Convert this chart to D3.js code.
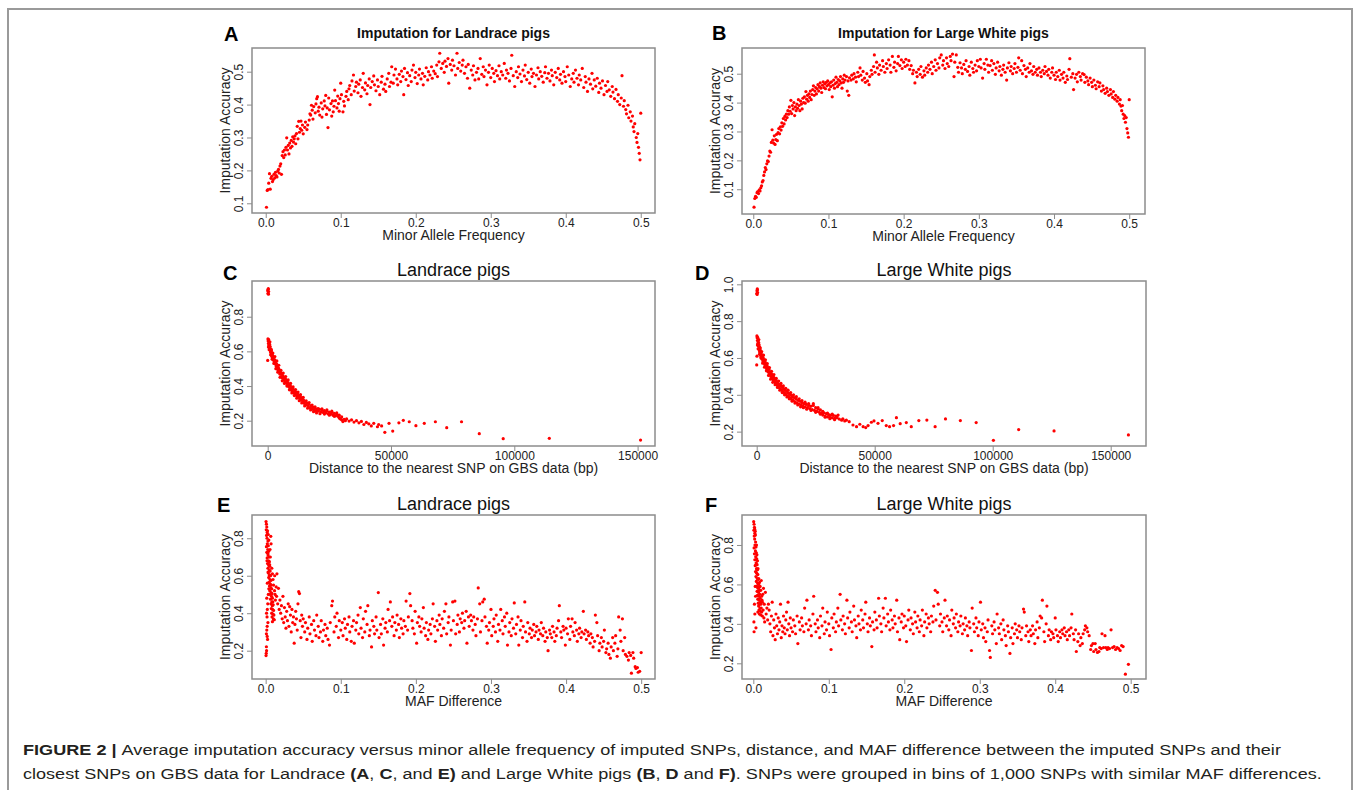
<!DOCTYPE html>
<html>
<head>
<meta charset="utf-8">
<script src="https://cdn.jsdelivr.net/npm/d3@7"></script>
<style>
	body { margin: 0; background: #fff; }
	svg text { font-family: "Liberation Sans", Arial, Helvetica, sans-serif; }
</style>
</head>
<body>
<svg id="fig" width="1355" height="790"></svg>
<script>
// A: Landrace, accuracy vs minor allele frequency
var landraceMaf = [
[0.001,0.088],[0.002,0.139],[0.003,0.142],[0.004,0.161],[0.005,0.19],[0.006,0.143],[0.007,0.176],[0.008,0.182],[0.009,0.166],[0.010,0.172],
[0.011,0.188],[0.012,0.177],[0.013,0.194],[0.014,0.184],[0.015,0.18],[0.016,0.198],[0.017,0.203],[0.018,0.192],[0.019,0.213],[0.020,0.22],
[0.021,0.188],[0.022,0.245],[0.023,0.257],[0.024,0.239],[0.025,0.262],[0.026,0.247],[0.027,0.27],[0.028,0.299],[0.029,0.262],[0.030,0.276],
[0.031,0.25],[0.032,0.283],[0.033,0.268],[0.034,0.291],[0.035,0.273],[0.036,0.302],[0.037,0.286],[0.038,0.296],[0.039,0.305],[0.040,0.281],
[0.041,0.312],[0.042,0.334],[0.043,0.296],[0.044,0.349],[0.045,0.316],[0.046,0.327],[0.047,0.35],[0.048,0.322],[0.049,0.338],[0.050,0.311],
[0.052,0.331],[0.053,0.347],[0.055,0.324],[0.056,0.338],[0.058,0.353],[0.059,0.372],[0.060,0.368],[0.061,0.398],[0.062,0.383],[0.063,0.356],
[0.064,0.394],[0.066,0.375],[0.067,0.402],[0.068,0.418],[0.069,0.424],[0.070,0.38],[0.071,0.392],[0.072,0.368],[0.074,0.405],[0.075,0.362],
[0.076,0.387],[0.078,0.411],[0.079,0.396],[0.080,0.428],[0.081,0.37],[0.082,0.39],[0.083,0.33],[0.084,0.42],[0.085,0.384],[0.087,0.403],
[0.088,0.365],[0.089,0.411],[0.090,0.378],[0.091,0.395],[0.092,0.444],[0.093,0.412],[0.095,0.39],[0.096,0.426],[0.097,0.403],[0.098,0.38],
[0.099,0.418],[0.100,0.465],[0.101,0.43],[0.103,0.378],[0.104,0.41],[0.105,0.396],[0.107,0.425],[0.108,0.44],[0.110,0.415],[0.111,0.448],
[0.112,0.458],[0.114,0.43],[0.115,0.472],[0.117,0.49],[0.118,0.441],[0.120,0.455],[0.121,0.468],[0.123,0.436],[0.124,0.462],[0.126,0.475],
[0.127,0.425],[0.129,0.452],[0.130,0.495],[0.132,0.445],[0.133,0.466],[0.135,0.433],[0.136,0.458],[0.138,0.478],[0.139,0.40],[0.140,0.452],
[0.142,0.47],[0.144,0.487],[0.145,0.46],[0.147,0.442],[0.149,0.475],[0.150,0.455],[0.152,0.43],[0.154,0.468],[0.155,0.486],[0.157,0.447],
[0.159,0.462],[0.160,0.44],[0.162,0.478],[0.164,0.495],[0.165,0.455],[0.167,0.468],[0.168,0.515],[0.170,0.465],[0.171,0.49],[0.173,0.508],
[0.175,0.478],[0.176,0.46],[0.178,0.492],[0.180,0.47],[0.181,0.502],[0.183,0.485],[0.184,0.43],[0.185,0.51],[0.187,0.476],[0.189,0.497],
[0.190,0.458],[0.192,0.488],[0.194,0.47],[0.195,0.505],[0.197,0.52],[0.199,0.482],[0.200,0.498],[0.202,0.464],[0.204,0.49],[0.205,0.508],
[0.207,0.478],[0.209,0.495],[0.210,0.46],[0.212,0.486],[0.214,0.512],[0.216,0.475],[0.217,0.5],[0.219,0.49],[0.221,0.515],[0.222,0.48],
[0.224,0.502],[0.226,0.494],[0.228,0.52],[0.229,0.485],[0.231,0.53],[0.232,0.556],[0.234,0.51],[0.236,0.525],[0.238,0.498],[0.239,0.532],
[0.241,0.516],[0.243,0.54],[0.244,0.465],[0.246,0.522],[0.248,0.505],[0.249,0.535],[0.251,0.518],[0.253,0.49],[0.255,0.556],[0.256,0.51],
[0.258,0.528],[0.260,0.502],[0.262,0.52],[0.263,0.535],[0.265,0.495],[0.267,0.515],[0.269,0.48],[0.270,0.522],[0.272,0.45],[0.274,0.505],
[0.276,0.49],[0.277,0.518],[0.279,0.475],[0.281,0.498],[0.283,0.51],[0.284,0.478],[0.286,0.54],[0.288,0.492],[0.290,0.515],[0.291,0.485],
[0.293,0.505],[0.295,0.46],[0.297,0.498],[0.298,0.52],[0.300,0.482],[0.302,0.51],[0.304,0.495],[0.305,0.47],[0.307,0.503],[0.309,0.488],
[0.311,0.518],[0.312,0.478],[0.314,0.5],[0.316,0.49],[0.318,0.525],[0.320,0.48],[0.321,0.505],[0.323,0.495],[0.325,0.472],[0.327,0.51],
[0.328,0.55],[0.330,0.488],[0.332,0.455],[0.334,0.5],[0.336,0.482],[0.337,0.515],[0.339,0.493],[0.341,0.47],[0.343,0.505],[0.345,0.487],
[0.346,0.52],[0.348,0.476],[0.350,0.498],[0.352,0.465],[0.354,0.508],[0.355,0.485],[0.357,0.495],[0.359,0.455],[0.361,0.49],[0.363,0.512],
[0.364,0.478],[0.366,0.5],[0.368,0.486],[0.370,0.468],[0.372,0.497],[0.373,0.515],[0.375,0.48],[0.377,0.495],[0.379,0.472],[0.381,0.505],
[0.382,0.488],[0.384,0.46],[0.386,0.498],[0.388,0.482],[0.390,0.51],[0.392,0.475],[0.393,0.492],[0.395,0.465],[0.397,0.5],[0.399,0.485],
[0.400,0.47],[0.402,0.515],[0.404,0.49],[0.406,0.455],[0.408,0.478],[0.410,0.495],[0.411,0.468],[0.413,0.505],[0.415,0.48],[0.417,0.46],
[0.418,0.49],[0.420,0.475],[0.422,0.51],[0.424,0.452],[0.426,0.485],[0.427,0.468],[0.429,0.44],[0.431,0.478],[0.433,0.462],[0.435,0.495],
[0.436,0.448],[0.438,0.475],[0.440,0.456],[0.442,0.48],[0.444,0.437],[0.445,0.465],[0.447,0.45],[0.449,0.472],[0.451,0.43],[0.453,0.458],
[0.455,0.44],[0.456,0.47],[0.458,0.445],[0.460,0.425],[0.462,0.455],[0.463,0.438],[0.465,0.418],[0.467,0.446],[0.469,0.41],[0.470,0.43],
[0.472,0.4],[0.474,0.42],[0.475,0.488],[0.477,0.395],[0.478,0.412],[0.480,0.385],[0.481,0.372],[0.483,0.398],[0.484,0.36],[0.486,0.378],
[0.487,0.35],[0.489,0.365],[0.490,0.332],[0.491,0.318],[0.492,0.342],[0.494,0.30],[0.495,0.285],[0.496,0.312],[0.497,0.27],[0.498,0.252],
[0.499,0.232],[0.500,0.374]
];

// B: Large White, accuracy vs minor allele frequency
var largeWhiteMaf = [
[0.001,0.038],[0.002,0.068],[0.003,0.075],[0.004,0.072],[0.005,0.088],[0.006,0.092],[0.007,0.085],[0.008,0.098],[0.009,0.094],[0.010,0.105],
[0.011,0.112],[0.012,0.125],[0.013,0.13],[0.014,0.148],[0.015,0.16],[0.016,0.175],[0.017,0.168],[0.018,0.188],[0.019,0.198],[0.020,0.196],
[0.021,0.215],[0.022,0.232],[0.023,0.228],[0.024,0.262],[0.025,0.306],[0.026,0.27],[0.027,0.26],[0.028,0.285],[0.029,0.255],[0.030,0.272],
[0.031,0.29],[0.032,0.268],[0.033,0.296],[0.034,0.31],[0.035,0.292],[0.036,0.316],[0.037,0.305],[0.038,0.33],[0.039,0.318],[0.040,0.345],
[0.041,0.326],[0.042,0.352],[0.043,0.34],[0.044,0.36],[0.045,0.348],[0.046,0.372],[0.047,0.36],[0.048,0.385],[0.049,0.37],[0.050,0.408],
[0.051,0.362],[0.052,0.39],[0.053,0.378],[0.054,0.4],[0.055,0.355],[0.056,0.385],[0.057,0.372],[0.058,0.395],[0.059,0.38],[0.060,0.41],
[0.061,0.39],[0.062,0.372],[0.063,0.405],[0.064,0.395],[0.065,0.378],[0.066,0.415],[0.067,0.4],[0.068,0.42],[0.069,0.398],[0.070,0.438],
[0.071,0.412],[0.072,0.425],[0.073,0.405],[0.074,0.43],[0.075,0.418],[0.076,0.44],[0.077,0.41],[0.078,0.428],[0.079,0.445],[0.080,0.458],
[0.081,0.425],[0.082,0.44],[0.083,0.452],[0.084,0.43],[0.085,0.448],[0.086,0.462],[0.087,0.44],[0.088,0.455],[0.089,0.468],[0.090,0.45],
[0.091,0.435],[0.092,0.46],[0.093,0.472],[0.094,0.452],[0.095,0.465],[0.096,0.448],[0.097,0.47],[0.098,0.458],[0.099,0.475],[0.100,0.462],
[0.101,0.445],[0.102,0.468],[0.103,0.455],[0.104,0.472],[0.105,0.42],[0.106,0.46],[0.107,0.478],[0.108,0.45],[0.109,0.466],[0.110,0.488],
[0.111,0.47],[0.112,0.455],[0.113,0.48],[0.114,0.462],[0.115,0.475],[0.116,0.49],[0.117,0.468],[0.118,0.45],[0.119,0.482],[0.120,0.47],
[0.121,0.495],[0.122,0.478],[0.124,0.49],[0.125,0.44],[0.126,0.475],[0.127,0.425],[0.128,0.486],[0.130,0.478],[0.131,0.495],[0.133,0.482],
[0.134,0.5],[0.136,0.488],[0.137,0.472],[0.139,0.505],[0.140,0.49],[0.142,0.52],[0.143,0.495],[0.145,0.478],[0.146,0.508],[0.148,0.485],
[0.149,0.47],[0.151,0.5],[0.152,0.475],[0.154,0.462],[0.155,0.49],[0.157,0.512],[0.158,0.498],[0.160,0.525],[0.161,0.565],[0.162,0.505],
[0.164,0.54],[0.165,0.52],[0.167,0.498],[0.168,0.53],[0.170,0.512],[0.172,0.545],[0.173,0.525],[0.175,0.505],[0.177,0.535],[0.178,0.518],
[0.180,0.548],[0.182,0.53],[0.183,0.505],[0.185,0.56],[0.187,0.522],[0.188,0.54],[0.190,0.51],[0.192,0.535],[0.193,0.56],[0.195,0.528],
[0.197,0.548],[0.198,0.518],[0.200,0.54],[0.202,0.525],[0.203,0.55],[0.205,0.53],[0.207,0.545],[0.208,0.515],[0.210,0.528],[0.212,0.5],
[0.213,0.512],[0.215,0.468],[0.217,0.505],[0.218,0.49],[0.220,0.515],[0.222,0.498],[0.223,0.525],[0.225,0.488],[0.227,0.51],[0.228,0.495],
[0.230,0.52],[0.232,0.505],[0.233,0.53],[0.235,0.515],[0.237,0.54],[0.238,0.5],[0.240,0.525],[0.242,0.548],[0.243,0.512],[0.245,0.535],
[0.247,0.52],[0.248,0.555],[0.250,0.565],[0.252,0.53],[0.253,0.545],[0.255,0.518],[0.257,0.555],[0.258,0.535],[0.260,0.525],[0.262,0.56],
[0.263,0.545],[0.265,0.568],[0.267,0.49],[0.268,0.54],[0.270,0.565],[0.272,0.522],[0.273,0.505],[0.275,0.538],[0.277,0.52],[0.278,0.5],
[0.280,0.532],[0.282,0.515],[0.283,0.545],[0.285,0.508],[0.287,0.525],[0.288,0.495],[0.290,0.54],[0.292,0.518],[0.293,0.505],[0.295,0.53],
[0.297,0.51],[0.298,0.545],[0.300,0.525],[0.302,0.55],[0.303,0.52],[0.305,0.485],[0.307,0.535],[0.308,0.515],[0.310,0.55],[0.312,0.53],
[0.313,0.505],[0.315,0.528],[0.317,0.545],[0.318,0.512],[0.320,0.535],[0.322,0.498],[0.323,0.52],[0.325,0.54],[0.327,0.51],[0.328,0.525],
[0.330,0.495],[0.332,0.515],[0.333,0.53],[0.335,0.505],[0.337,0.478],[0.338,0.52],[0.340,0.538],[0.342,0.51],[0.343,0.525],[0.345,0.5],
[0.347,0.518],[0.348,0.535],[0.350,0.505],[0.352,0.522],[0.353,0.555],[0.355,0.512],[0.357,0.545],[0.358,0.5],[0.360,0.528],[0.362,0.515],
[0.363,0.49],[0.365,0.52],[0.367,0.505],[0.368,0.535],[0.370,0.51],[0.372,0.498],[0.373,0.525],[0.375,0.505],[0.377,0.515],[0.378,0.495],
[0.380,0.52],[0.382,0.505],[0.383,0.49],[0.385,0.512],[0.387,0.5],[0.388,0.525],[0.390,0.508],[0.392,0.495],[0.393,0.515],[0.395,0.485],
[0.397,0.505],[0.398,0.52],[0.400,0.495],[0.402,0.48],[0.403,0.505],[0.405,0.49],[0.407,0.512],[0.408,0.478],[0.410,0.498],[0.412,0.485],
[0.413,0.505],[0.415,0.47],[0.417,0.492],[0.418,0.48],[0.420,0.515],[0.421,0.552],[0.423,0.488],[0.425,0.5],[0.426,0.445],[0.428,0.485],
[0.430,0.498],[0.431,0.472],[0.433,0.505],[0.435,0.49],[0.436,0.478],[0.438,0.5],[0.440,0.497],[0.441,0.47],[0.443,0.488],[0.445,0.475],
[0.446,0.462],[0.448,0.485],[0.450,0.47],[0.451,0.455],[0.453,0.478],[0.455,0.46],[0.456,0.448],[0.458,0.472],[0.460,0.455],[0.461,0.468],
[0.463,0.44],[0.465,0.458],[0.466,0.445],[0.468,0.432],[0.470,0.45],[0.471,0.438],[0.473,0.425],[0.475,0.445],[0.476,0.43],[0.478,0.418],
[0.479,0.438],[0.481,0.412],[0.482,0.425],[0.484,0.405],[0.485,0.418],[0.487,0.395],[0.488,0.41],[0.489,0.388],[0.490,0.372],[0.491,0.39],
[0.492,0.36],[0.493,0.345],[0.494,0.355],[0.495,0.332],[0.496,0.348],[0.497,0.31],[0.498,0.295],[0.499,0.28],[0.500,0.41]
];

// C: Landrace, accuracy vs distance to nearest GBS SNP (bp)
var landraceDist = [
[0,0.95],[120,0.935],[250,0.962],[380,0.945],[180,0.958],[300,0.93],[0,0.548],
[100,0.672],[200,0.66],[300,0.645],[400,0.668],[500,0.635],[600,0.652],[700,0.62],[800,0.64],[900,0.61],[1000,0.628],
[1100,0.598],[1200,0.615],[1300,0.59],[1400,0.605],[1500,0.578],[1600,0.595],[1700,0.57],[1800,0.585],[1900,0.562],[2000,0.575],
[2200,0.552],[2400,0.565],[2600,0.54],[2800,0.552],[3000,0.528],[3200,0.54],[3400,0.515],[3600,0.528],[3800,0.505],[4000,0.515],
[4200,0.49],[4400,0.503],[4600,0.48],[4800,0.492],[5000,0.468],[5250,0.478],[5500,0.455],[5750,0.468],[6000,0.445],[6250,0.458],
[6500,0.435],[6750,0.448],[7000,0.425],[7250,0.44],[7500,0.418],[7750,0.43],[8000,0.405],[8250,0.42],[8500,0.398],[8750,0.408],
[9000,0.385],[9250,0.4],[9500,0.378],[9750,0.39],[10000,0.37],[10300,0.382],[10600,0.36],[10900,0.372],[11200,0.352],[11500,0.365],
[11800,0.342],[12100,0.355],[12400,0.335],[12700,0.345],[13000,0.325],[13300,0.337],[13600,0.318],[13900,0.33],[14200,0.308],[14500,0.32],
[14800,0.3],[15100,0.31],[15500,0.292],[15900,0.302],[16300,0.285],[16700,0.295],[17100,0.275],[17500,0.285],[17900,0.268],[18300,0.278],
[18700,0.262],[19100,0.272],[19500,0.258],[20000,0.268],[20500,0.255],[21000,0.265],[21500,0.25],[22000,0.262],[22500,0.248],[23000,0.258],
[23500,0.245],[24000,0.255],[24500,0.24],[25000,0.25],[25500,0.238],[26000,0.248],[26500,0.232],[27000,0.242],[27500,0.228],[28000,0.238],
[28500,0.225],[29000,0.232],[29500,0.21],[30000,0.222],[30500,0.195],[31000,0.208],[31500,0.2],[32000,0.21],[33000,0.198],[34000,0.205],
[35000,0.192],[36000,0.2],[37000,0.188],[38000,0.196],[39000,0.178],[40000,0.19],[41000,0.182],[42000,0.17],[43000,0.185],[44500,0.165],
[45000,0.178],[46200,0.17],[47500,0.133],[49200,0.185],[50700,0.14],[53200,0.188],[55000,0.202],[57400,0.194],[60100,0.171],[63500,0.185],
[68000,0.194],[72600,0.16],[78600,0.194],[85800,0.125],[95500,0.096],[114200,0.098],[151200,0.088],
[300,0.625],[600,0.61],[900,0.655],[1200,0.58],[1500,0.61],[1800,0.555],[2100,0.59],[2500,0.53],[2900,0.57],[3300,0.5],
[3700,0.545],[4100,0.48],[4500,0.52],[5000,0.45],[5400,0.49],[5900,0.43],[6300,0.475],[6800,0.415],[7300,0.455],[7800,0.4],
[8300,0.435],[8800,0.378],[9300,0.415],[9800,0.36],[10300,0.395],[10800,0.345],[11300,0.38],[11800,0.33],[12300,0.365],[12800,0.315],
[13300,0.35],[13800,0.302],[14400,0.335],[15000,0.285],[15600,0.315],[16200,0.272],[16800,0.305],[17400,0.262],[18000,0.29],[18600,0.252],
[19200,0.28],[19800,0.245],[20500,0.27],[21200,0.24],[22000,0.268],[23000,0.238],[24000,0.262],[25000,0.232],[26000,0.255],[27000,0.225],
[28000,0.245],[29000,0.215],[30000,0.205]
];

// D: Large White, accuracy vs distance to nearest GBS SNP (bp)
var largeWhiteDist = [
[0,0.95],[120,0.965],[250,0.975],[380,0.955],[180,0.945],[300,0.97],[0,0.562],[100,0.61],
[100,0.72],[200,0.71],[300,0.695],[400,0.712],[500,0.68],[600,0.698],[700,0.665],[800,0.685],[900,0.652],[1000,0.672],
[1100,0.64],[1200,0.66],[1300,0.63],[1400,0.648],[1500,0.62],[1600,0.638],[1700,0.612],[1800,0.628],[1900,0.602],[2000,0.62],
[2200,0.595],[2400,0.61],[2600,0.585],[2800,0.6],[3000,0.575],[3200,0.59],[3400,0.565],[3600,0.578],[3800,0.552],[4000,0.568],
[4200,0.542],[4400,0.558],[4600,0.532],[4800,0.548],[5000,0.522],[5250,0.538],[5500,0.512],[5750,0.525],[6000,0.5],[6250,0.515],
[6500,0.49],[6750,0.505],[7000,0.48],[7250,0.495],[7500,0.472],[7750,0.485],[8000,0.462],[8250,0.478],[8500,0.455],[8750,0.468],
[9000,0.448],[9250,0.46],[9500,0.44],[9750,0.455],[10000,0.432],[10300,0.448],[10600,0.425],[10900,0.44],[11200,0.418],[11500,0.432],
[11800,0.41],[12100,0.425],[12400,0.402],[12700,0.418],[13000,0.395],[13300,0.41],[13600,0.39],[13900,0.405],[14200,0.382],[14500,0.398],
[14800,0.375],[15100,0.39],[15500,0.37],[15900,0.385],[16300,0.362],[16700,0.378],[17100,0.355],[17500,0.37],[17900,0.35],[18300,0.365],
[18700,0.345],[19100,0.358],[19500,0.34],[20000,0.352],[20500,0.335],[21000,0.348],[21500,0.33],[22000,0.342],[22500,0.325],[23000,0.338],
[23500,0.32],[24000,0.352],[24500,0.315],[25000,0.33],[25500,0.31],[26000,0.322],[26500,0.305],[27000,0.318],[27500,0.3],[28000,0.29],
[28500,0.302],[29000,0.285],[29500,0.298],[30000,0.28],[30500,0.292],[31000,0.278],[31500,0.29],[32000,0.275],[32500,0.288],[33000,0.272],
[33500,0.285],[34000,0.275],[34500,0.29],[35000,0.268],[36000,0.262],[36500,0.27],[37300,0.258],[38000,0.262],[39200,0.254],[40800,0.236],
[42300,0.227],[43700,0.24],[45100,0.227],[46200,0.222],[47200,0.233],[48600,0.251],[49700,0.258],[51400,0.245],[53200,0.26],[54900,0.233],
[56300,0.227],[58000,0.233],[59200,0.276],[60800,0.243],[63400,0.249],[65500,0.227],[68700,0.26],[72100,0.263],[75600,0.227],[80000,0.269],
[86300,0.26],[93000,0.249],[100300,0.153],[111000,0.211],[126000,0.204],[157500,0.182],
[300,0.67],[600,0.65],[900,0.7],[1200,0.62],[1500,0.655],[1800,0.6],[2100,0.635],[2500,0.572],[2900,0.615],[3300,0.55],
[3700,0.59],[4100,0.53],[4500,0.57],[5000,0.505],[5400,0.548],[5900,0.485],[6300,0.528],[6800,0.468],[7300,0.51],[7800,0.455],
[8300,0.49],[8800,0.44],[9300,0.475],[9800,0.425],[10300,0.462],[10800,0.412],[11300,0.448],[11800,0.4],[12300,0.435],[12800,0.388],
[13300,0.425],[13800,0.378],[14400,0.412],[15000,0.365],[15600,0.4],[16200,0.355],[16800,0.39],[17400,0.345],[18000,0.378],[18600,0.335],
[19200,0.368],[19800,0.33],[20500,0.36],[21200,0.322],[22000,0.352],[23000,0.315],[24000,0.342],[25000,0.305],[26000,0.33],[27000,0.295],
[28000,0.31],[29000,0.278],[30000,0.3],[31000,0.27],[32000,0.295],[33000,0.265],[34000,0.28]
];

// E: Landrace, accuracy vs MAF difference
var landraceMafDiff = [
[0.0005,0.889],[0.001,0.875],[0.0015,0.86],[0.0008,0.845],[0.002,0.83],[0.0012,0.815],[0.0025,0.84],[0.0018,0.8],[0.003,0.785],[0.0022,0.77],
[0.001,0.755],[0.0035,0.76],[0.0028,0.74],[0.0015,0.725],[0.004,0.73],[0.0032,0.71],[0.002,0.695],[0.0045,0.7],[0.0038,0.68],[0.0025,0.665],
[0.005,0.675],[0.0042,0.655],[0.003,0.64],[0.0055,0.65],[0.0048,0.63],[0.0035,0.615],[0.006,0.625],[0.0052,0.605],[0.004,0.59],[0.0065,0.6],
[0.0058,0.58],[0.0045,0.565],[0.007,0.575],[0.0062,0.555],[0.005,0.545],[0.0075,0.55],[0.0068,0.535],[0.0055,0.52],[0.008,0.53],[0.0072,0.51],
[0.006,0.5],[0.0085,0.505],[0.0078,0.49],[0.0065,0.475],[0.009,0.48],[0.0082,0.46],[0.007,0.45],[0.0095,0.46],[0.0088,0.44],[0.0075,0.425],
[0.010,0.445],[0.0092,0.42],[0.008,0.4],[0.0105,0.415],[0.0098,0.395],[0.0085,0.38],[0.011,0.39],[0.0102,0.37],[0.009,0.355],[0.0115,0.365],
[0.003,0.35],[0.002,0.33],[0.0015,0.31],[0.001,0.29],[0.002,0.276],[0.0025,0.26],[0.001,0.221],[0.0012,0.2],[0.0008,0.186],[0.0005,0.174],
[0.0018,0.38],[0.0012,0.4],[0.0022,0.42],[0.0028,0.45],[0.0015,0.48],[0.0035,0.5],[0.0042,0.53],[0.0022,0.56],[0.0048,0.6],[0.0032,0.62],
[0.0052,0.66],[0.0018,0.68],[0.0062,0.7],[0.0028,0.72],[0.0058,0.74],[0.0042,0.79],[0.0068,0.81],[0.0035,0.82],[0.0072,0.77],[0.0082,0.64],
[0.009,0.61],[0.0098,0.58],[0.0105,0.55],[0.012,0.6],[0.0118,0.52],[0.0125,0.5],[0.013,0.47],[0.014,0.54],[0.0145,0.49],[0.015,0.61],
[0.016,0.45],[0.017,0.533],[0.018,0.42],[0.019,0.47],
[0.020,0.40],[0.021,0.44],[0.022,0.37],[0.023,0.49],[0.024,0.35],[0.025,0.43],[0.026,0.38],[0.027,0.32],[0.028,0.41],[0.029,0.36],
[0.030,0.45],[0.031,0.33],[0.032,0.435],[0.033,0.39],[0.034,0.30],[0.035,0.42],[0.036,0.35],[0.037,0.38],[0.038,0.24],[0.039,0.34],
[0.040,0.41],[0.041,0.37],[0.042,0.31],[0.043,0.45],[0.044,0.515],[0.045,0.505],[0.046,0.36],[0.047,0.27],[0.048,0.39],[0.049,0.33],
[0.050,0.37],[0.052,0.30],[0.053,0.35],[0.055,0.26],[0.056,0.32],[0.058,0.38],[0.059,0.29],[0.061,0.34],[0.062,0.25],[0.064,0.36],
[0.065,0.31],[0.067,0.28],[0.068,0.39],[0.070,0.33],[0.071,0.27],[0.073,0.30],[0.074,0.36],[0.076,0.25],[0.077,0.31],[0.079,0.34],
[0.080,0.28],[0.082,0.32],[0.083,0.26],[0.085,0.23],[0.086,0.35],[0.088,0.44],[0.089,0.465],[0.091,0.30],[0.092,0.38],[0.094,0.33],
[0.095,0.40],[0.097,0.27],[0.098,0.36],[0.100,0.31],[0.102,0.35],[0.103,0.28],[0.105,0.37],[0.106,0.32],[0.108,0.26],[0.109,0.34],
[0.111,0.38],[0.112,0.30],[0.114,0.25],[0.115,0.33],[0.117,0.36],[0.118,0.24],[0.120,0.31],[0.121,0.35],[0.123,0.39],[0.124,0.29],
[0.126,0.43],[0.127,0.32],[0.129,0.27],[0.130,0.37],[0.132,0.30],[0.133,0.41],[0.135,0.34],[0.136,0.44],[0.138,0.28],[0.139,0.31],
[0.141,0.22],[0.142,0.36],[0.144,0.33],[0.145,0.29],[0.147,0.38],[0.148,0.31],[0.150,0.51],[0.151,0.27],[0.153,0.34],[0.154,0.29],
[0.156,0.37],[0.157,0.23],[0.159,0.32],[0.160,0.35],[0.162,0.30],[0.163,0.42],[0.165,0.36],[0.166,0.46],[0.168,0.33],[0.169,0.38],
[0.171,0.28],[0.172,0.35],[0.174,0.31],[0.175,0.39],[0.177,0.34],[0.178,0.27],[0.180,0.37],[0.181,0.32],[0.183,0.29],[0.184,0.36],
[0.186,0.33],[0.187,0.465],[0.189,0.31],[0.190,0.38],[0.192,0.505],[0.193,0.44],[0.195,0.36],[0.196,0.32],[0.198,0.29],[0.199,0.41],
[0.201,0.24],[0.202,0.35],[0.204,0.38],[0.205,0.33],[0.207,0.30],[0.208,0.37],[0.210,0.43],[0.211,0.32],[0.213,0.28],[0.214,0.35],
[0.216,0.26],[0.217,0.31],[0.219,0.34],[0.220,0.29],[0.222,0.37],[0.223,0.45],[0.225,0.33],[0.226,0.25],[0.228,0.36],[0.229,0.31],
[0.231,0.39],[0.232,0.34],[0.234,0.28],[0.235,0.37],[0.237,0.32],[0.238,0.41],[0.240,0.45],[0.241,0.29],[0.243,0.35],[0.244,0.38],
[0.246,0.23],[0.247,0.31],[0.249,0.46],[0.250,0.36],[0.252,0.465],[0.253,0.29],[0.255,0.34],[0.256,0.39],[0.258,0.30],[0.259,0.37],
[0.261,0.35],[0.262,0.40],[0.264,0.32],[0.265,0.36],[0.267,0.41],[0.268,0.24],[0.270,0.38],[0.271,0.33],[0.273,0.39],[0.274,0.36],
[0.276,0.31],[0.277,0.38],[0.279,0.34],[0.280,0.28],[0.282,0.37],[0.283,0.535],[0.285,0.45],[0.286,0.30],[0.288,0.36],[0.289,0.46],
[0.291,0.475],[0.292,0.38],[0.294,0.33],[0.295,0.24],[0.297,0.31],[0.298,0.35],[0.300,0.42],[0.301,0.28],[0.303,0.33],[0.304,0.37],
[0.306,0.30],[0.307,0.39],[0.309,0.25],[0.310,0.34],[0.312,0.31],[0.313,0.42],[0.315,0.36],[0.316,0.29],[0.318,0.38],[0.319,0.33],
[0.321,0.40],[0.322,0.23],[0.324,0.30],[0.325,0.35],[0.327,0.28],[0.328,0.37],[0.330,0.32],[0.331,0.455],[0.333,0.29],[0.334,0.34],
[0.336,0.38],[0.337,0.23],[0.339,0.31],[0.340,0.36],[0.342,0.27],[0.343,0.33],[0.345,0.46],[0.346,0.30],[0.348,0.25],[0.349,0.35],
[0.351,0.29],[0.352,0.32],[0.354,0.27],[0.355,0.31],[0.357,0.34],[0.358,0.28],[0.360,0.30],[0.361,0.33],[0.363,0.26],[0.364,0.31],
[0.366,0.29],[0.367,0.35],[0.369,0.28],[0.370,0.32],[0.372,0.25],[0.373,0.30],[0.375,0.27],[0.376,0.20],[0.378,0.31],[0.379,0.29],
[0.381,0.27],[0.382,0.33],[0.384,0.30],[0.385,0.25],[0.387,0.28],[0.388,0.32],[0.390,0.36],[0.391,0.44],[0.393,0.30],[0.394,0.27],
[0.396,0.33],[0.397,0.31],[0.399,0.23],[0.400,0.32],[0.402,0.29],[0.403,0.37],[0.405,0.26],[0.406,0.33],[0.408,0.37],[0.409,0.30],
[0.411,0.28],[0.412,0.35],[0.414,0.31],[0.415,0.25],[0.417,0.29],[0.418,0.32],[0.420,0.27],[0.421,0.30],[0.423,0.41],[0.424,0.29],
[0.426,0.31],[0.427,0.26],[0.429,0.30],[0.430,0.28],[0.432,0.24],[0.433,0.29],[0.435,0.27],[0.436,0.22],[0.438,0.25],[0.439,0.39],
[0.441,0.35],[0.442,0.28],[0.444,0.20],[0.445,0.24],[0.447,0.27],[0.448,0.22],[0.450,0.25],[0.451,0.31],[0.453,0.19],[0.454,0.21],
[0.456,0.24],[0.457,0.18],[0.459,0.16],[0.460,0.22],[0.462,0.27],[0.463,0.20],[0.465,0.24],[0.466,0.28],[0.468,0.17],[0.469,0.21],
[0.470,0.38],[0.472,0.31],[0.473,0.25],[0.475,0.37],[0.476,0.20],[0.478,0.27],[0.479,0.18],[0.481,0.17],[0.483,0.15],[0.484,0.19],
[0.486,0.175],[0.487,0.08],[0.489,0.19],[0.490,0.16],[0.492,0.115],[0.493,0.105],[0.495,0.11],[0.496,0.085],[0.498,0.09],[0.500,0.19]
];

// F: Large White, accuracy vs MAF difference
var largeWhiteMafDiff = [
[0.0005,0.918],[0.001,0.905],[0.0015,0.89],[0.0008,0.875],[0.002,0.86],[0.0012,0.845],[0.0025,0.87],[0.0018,0.83],[0.003,0.815],[0.0022,0.8],
[0.001,0.785],[0.0035,0.79],[0.0028,0.77],[0.0015,0.755],[0.004,0.76],[0.0032,0.74],[0.002,0.725],[0.0045,0.73],[0.0038,0.71],[0.0025,0.695],
[0.005,0.7],[0.0042,0.68],[0.003,0.665],[0.0055,0.675],[0.0048,0.655],[0.0035,0.64],[0.006,0.65],[0.0052,0.63],[0.004,0.615],[0.0065,0.625],
[0.0058,0.605],[0.0045,0.59],[0.007,0.6],[0.0062,0.58],[0.005,0.565],[0.0075,0.585],[0.0068,0.56],[0.0055,0.545],[0.008,0.57],[0.0072,0.54],
[0.006,0.525],[0.0085,0.55],[0.0078,0.52],[0.0065,0.505],[0.009,0.53],[0.0082,0.5],[0.007,0.49],[0.0095,0.51],[0.0088,0.48],[0.0075,0.47],
[0.010,0.5],[0.0092,0.465],[0.008,0.45],[0.0105,0.48],[0.0098,0.445],[0.011,0.46],[0.0115,0.52],[0.012,0.44],[0.0125,0.55],[0.013,0.47],
[0.0135,0.58],[0.014,0.43],[0.0145,0.5],[0.015,0.41],[0.016,0.56],[0.017,0.45],[0.018,0.48],[0.019,0.42],[0.020,0.5],[0.001,0.36],
[0.002,0.45],[0.0015,0.5],[0.003,0.54],[0.0025,0.59],[0.004,0.66],[0.0035,0.7],[0.0048,0.75],[0.0042,0.8],[0.0055,0.72],[0.0062,0.68],
[0.0072,0.63],[0.0082,0.61],[0.009,0.59],[0.0098,0.57],[0.0105,0.62],[0.011,0.54],[0.012,0.51],[0.0028,0.85],[0.0018,0.88],[0.0008,0.41],
[0.0035,0.38],[0.006,0.46],
[0.021,0.47],[0.022,0.40],[0.023,0.36],[0.024,0.44],[0.025,0.51],[0.026,0.34],[0.027,0.42],[0.028,0.38],[0.029,0.32],[0.030,0.45],
[0.031,0.39],[0.032,0.35],[0.033,0.43],[0.034,0.37],[0.035,0.41],[0.036,0.50],[0.037,0.33],[0.038,0.39],[0.039,0.36],[0.040,0.44],
[0.041,0.38],[0.042,0.35],[0.043,0.42],[0.044,0.46],[0.045,0.37],[0.046,0.51],[0.047,0.40],[0.048,0.34],[0.049,0.43],[0.050,0.38],
[0.052,0.36],[0.053,0.42],[0.055,0.39],[0.056,0.35],[0.058,0.44],[0.059,0.30],[0.061,0.41],[0.062,0.37],[0.064,0.43],[0.065,0.39],
[0.067,0.36],[0.068,0.48],[0.070,0.40],[0.071,0.52],[0.073,0.37],[0.074,0.42],[0.076,0.39],[0.077,0.34],[0.079,0.45],[0.080,0.54],
[0.082,0.40],[0.083,0.36],[0.085,0.42],[0.086,0.38],[0.088,0.33],[0.089,0.44],[0.091,0.39],[0.092,0.48],[0.094,0.35],[0.095,0.41],
[0.097,0.37],[0.098,0.46],[0.100,0.40],[0.101,0.34],[0.103,0.27],[0.104,0.43],[0.106,0.38],[0.107,0.45],[0.109,0.36],[0.110,0.41],
[0.112,0.48],[0.113,0.39],[0.115,0.55],[0.116,0.42],[0.118,0.37],[0.119,0.44],[0.121,0.40],[0.122,0.35],[0.124,0.52],[0.125,0.43],
[0.127,0.38],[0.128,0.46],[0.130,0.41],[0.131,0.36],[0.133,0.49],[0.134,0.42],[0.136,0.39],[0.137,0.33],[0.139,0.44],[0.140,0.40],
[0.142,0.37],[0.143,0.47],[0.145,0.42],[0.146,0.38],[0.148,0.45],[0.149,0.51],[0.151,0.40],[0.152,0.36],[0.154,0.43],[0.155,0.39],
[0.157,0.285],[0.158,0.41],[0.160,0.37],[0.161,0.46],[0.163,0.42],[0.164,0.38],[0.166,0.53],[0.167,0.44],[0.169,0.40],[0.170,0.36],
[0.172,0.48],[0.173,0.43],[0.175,0.53],[0.176,0.39],[0.178,0.45],[0.179,0.41],[0.181,0.37],[0.182,0.47],[0.184,0.42],[0.185,0.38],
[0.187,0.44],[0.188,0.40],[0.190,0.52],[0.191,0.36],[0.193,0.43],[0.194,0.32],[0.196,0.41],[0.197,0.45],[0.199,0.38],[0.200,0.44],
[0.202,0.39],[0.203,0.31],[0.205,0.42],[0.206,0.47],[0.208,0.37],[0.209,0.43],[0.211,0.40],[0.212,0.35],[0.214,0.46],[0.215,0.41],
[0.217,0.38],[0.218,0.44],[0.220,0.36],[0.221,0.42],[0.223,0.39],[0.224,0.47],[0.226,0.34],[0.227,0.41],[0.229,0.45],[0.230,0.38],
[0.232,0.43],[0.233,0.40],[0.235,0.36],[0.236,0.44],[0.238,0.41],[0.239,0.49],[0.241,0.57],[0.242,0.42],[0.244,0.56],[0.245,0.50],
[0.247,0.39],[0.248,0.45],[0.250,0.41],[0.251,0.36],[0.253,0.43],[0.254,0.52],[0.256,0.39],[0.257,0.44],[0.259,0.37],[0.260,0.42],
[0.262,0.34],[0.263,0.47],[0.265,0.40],[0.266,0.43],[0.268,0.38],[0.269,0.45],[0.271,0.36],[0.272,0.41],[0.274,0.39],[0.275,0.44],
[0.277,0.35],[0.278,0.40],[0.280,0.37],[0.281,0.43],[0.283,0.39],[0.284,0.34],[0.286,0.41],[0.287,0.38],[0.289,0.265],[0.290,0.48],
[0.292,0.40],[0.293,0.36],[0.295,0.43],[0.296,0.38],[0.298,0.34],[0.299,0.41],[0.301,0.51],[0.302,0.37],[0.304,0.40],[0.305,0.33],
[0.307,0.38],[0.308,0.31],[0.310,0.36],[0.311,0.42],[0.313,0.265],[0.314,0.23],[0.316,0.39],[0.317,0.35],[0.319,0.41],[0.320,0.37],
[0.322,0.30],[0.323,0.45],[0.325,0.38],[0.326,0.35],[0.328,0.40],[0.329,0.32],[0.331,0.42],[0.332,0.37],[0.334,0.34],[0.335,0.29],
[0.337,0.39],[0.338,0.36],[0.340,0.25],[0.341,0.33],[0.343,0.38],[0.344,0.30],[0.346,0.35],[0.347,0.40],[0.349,0.37],[0.350,0.33],
[0.352,0.39],[0.353,0.36],[0.355,0.32],[0.356,0.38],[0.358,0.475],[0.359,0.46],[0.361,0.34],[0.362,0.39],[0.364,0.36],[0.365,0.31],
[0.367,0.37],[0.368,0.34],[0.370,0.39],[0.371,0.35],[0.373,0.30],[0.374,0.37],[0.376,0.41],[0.377,0.33],[0.379,0.38],[0.380,0.44],
[0.382,0.43],[0.383,0.52],[0.385,0.36],[0.386,0.31],[0.388,0.40],[0.389,0.49],[0.391,0.34],[0.392,0.37],[0.394,0.32],[0.395,0.36],
[0.397,0.35],[0.398,0.33],[0.400,0.43],[0.401,0.37],[0.403,0.34],[0.404,0.31],[0.406,0.36],[0.407,0.33],[0.409,0.37],[0.410,0.35],
[0.412,0.38],[0.413,0.34],[0.415,0.36],[0.416,0.32],[0.418,0.37],[0.419,0.34],[0.421,0.38],[0.422,0.45],[0.424,0.35],[0.425,0.32],
[0.427,0.37],[0.428,0.26],[0.430,0.31],[0.431,0.35],[0.433,0.29],[0.434,0.33],[0.436,0.30],[0.437,0.35],[0.439,0.37],[0.440,0.39],
[0.442,0.38],[0.443,0.36],[0.445,0.34],[0.447,0.27],[0.448,0.29],[0.450,0.30],[0.451,0.26],[0.453,0.30],[0.454,0.27],[0.456,0.255],
[0.458,0.26],[0.459,0.28],[0.461,0.275],[0.462,0.35],[0.464,0.28],[0.466,0.34],[0.467,0.28],[0.469,0.27],[0.470,0.28],[0.472,0.275],
[0.474,0.37],[0.476,0.28],[0.478,0.285],[0.480,0.27],[0.482,0.28],[0.484,0.275],[0.486,0.265],[0.488,0.29],[0.490,0.285],[0.493,0.145],
[0.497,0.195]
];

// tick values
var mafTicks = [0, 0.1, 0.2, 0.3, 0.4, 0.5];
var distTicks = [0, 50000, 100000, 150000];
var accTicksAB = [0.1, 0.2, 0.3, 0.4, 0.5];
var accTicksC = [0.2, 0.4, 0.6, 0.8];
var accTicksD = [0.2, 0.4, 0.6, 0.8, 1.0];
var accTicksEF = [0.2, 0.4, 0.6, 0.8];

var captionLine1 = [["FIGURE 2 | ", true], ["Average imputation accuracy versus minor allele frequency of imputed SNPs, distance, and MAF difference between the imputed SNPs and their", false]];
var captionLine2 = [["closest SNPs on GBS data for Landrace ", false], ["(A", true], [", ", false], ["C", true], [", and ", false], ["E)", true],
	[" and Large White pigs ", false], ["(B", true], [", ", false], ["D", true], [" and ", false], ["F)", true],
	[". SNPs were grouped in bins of 1,000 SNPs with similar MAF differences.", false]];

var fmt1 = d3.format(".1f");
var fmtInt = d3.format("d");

// box = [left, top, right, bottom] in pixels
var panels = [
	{letter: "A", lx: 224, ly: 41, title: "Imputation for Landrace pigs", bold: true, xlab: "Minor Allele Frequency",
		data: landraceMaf, box: [252, 48, 655, 213], xd: [-0.0183, 0.519], yd: [0.0705, 0.572], xt: mafTicks, yt: accTicksAB, xf: fmt1},
	{letter: "B", lx: 712, ly: 40, title: "Imputation for Large White pigs", bold: true, xlab: "Minor Allele Frequency",
		data: largeWhiteMaf, box: [742, 48, 1145, 214], xd: [-0.015, 0.521], yd: [0.0143, 0.589], xt: mafTicks, yt: accTicksAB, xf: fmt1},
	{letter: "C", lx: 223, ly: 280, title: "Landrace pigs", bold: false, xlab: "Distance to the nearest SNP on GBS data (bp)",
		data: landraceDist, box: [252, 281, 655, 446], xd: [-6366, 157056], yd: [0.054, 1.006], xt: distTicks, yt: accTicksC, xf: fmtInt},
	{letter: "D", lx: 695, ly: 280, title: "Large White pigs", bold: false, xlab: "Distance to the nearest SNP on GBS data (bp)",
		data: largeWhiteDist, box: [742, 281, 1146, 446], xd: [-6229, 164958], yd: [0.122, 1.018], xt: distTicks, yt: accTicksD, xf: fmtInt},
	{letter: "E", lx: 217, ly: 512, title: "Landrace pigs", bold: false, xlab: "MAF Difference",
		data: landraceMafDiff, box: [252, 515, 655, 679], xd: [-0.0182, 0.5184], yd: [0.049, 0.924], xt: mafTicks, yt: accTicksEF, xf: fmt1},
	{letter: "F", lx: 705, ly: 512, title: "Large White pigs", bold: false, xlab: "MAF Difference",
		data: largeWhiteMafDiff, box: [742, 515, 1146, 679], xd: [-0.015, 0.5203], yd: [0.1205, 0.952], xt: mafTicks, yt: accTicksEF, xf: fmt1}
];

var svg = d3.select("#fig");
var frameColor = "#8c8c8c";
var textColor = "#222";

svg.append("rect")
	.attr("width", 1355).attr("height", 790)
	.attr("fill", "#fff");

// outer frame of the figure
svg.append("path")
	.attr("d", "M8,800 L8,9 L1352,9 L1352,800")
	.attr("fill", "none")
	.attr("stroke", "#9a9a9a")
	.attr("stroke-width", 2);

function drawPanel(p) {
	var b = p.box;
	var x = d3.scaleLinear().domain(p.xd).range([b[0], b[2]]);
	var y = d3.scaleLinear().domain(p.yd).range([b[3], b[1]]);
	var g = svg.append("g").classed("panel", true);

	g.selectAll(".pt")
		.data(p.data)
		.enter()
		.append("circle")
		.classed("pt", true)
		.attr("cx", function(d) { return x(d[0]); })
		.attr("cy", function(d) { return y(d[1]); })
		.attr("r", 1.6)
		.attr("fill", "#ff0000");

	g.append("rect")
		.attr("x", b[0]).attr("y", b[1])
		.attr("width", b[2] - b[0]).attr("height", b[3] - b[1])
		.attr("fill", "none")
		.attr("stroke", frameColor)
		.attr("stroke-width", 1.5);

	var xa = g.append("g")
		.attr("transform", "translate(0," + b[3] + ")")
		.call(d3.axisBottom(x).tickValues(p.xt).tickSize(5).tickFormat(p.xf));
	xa.select(".domain").remove();
	xa.selectAll("line").attr("stroke", frameColor);
	xa.selectAll("text")
		.attr("y", 13.5).attr("dy", 0)
		.attr("fill", textColor)
		.style("font-size", "12px");
	xa.attr("font-family", null).attr("font-size", null);

	var ya = g.append("g")
		.attr("transform", "translate(" + b[0] + ",0)")
		.call(d3.axisLeft(y).tickValues(p.yt).tickSize(5).tickFormat(fmt1));
	ya.select(".domain").remove();
	ya.selectAll("line").attr("stroke", frameColor);
	ya.selectAll("text")
		.attr("transform", "rotate(-90)")
		.attr("x", 0).attr("y", -9).attr("dy", 0)
		.attr("text-anchor", "middle")
		.attr("fill", textColor)
		.style("font-size", "12px");
	ya.attr("font-family", null).attr("font-size", null);

	var cx = (b[0] + b[2]) / 2;
	var cy = (b[1] + b[3]) / 2;

	// titles
	g.append("text")
		.attr("x", cx)
		.attr("y", p.bold ? b[1] - 10.5 : b[1] - 5.5)
		.attr("text-anchor", "middle")
		.attr("fill", "#111")
		.style("font-size", p.bold ? "14px" : "18px")
		.style("font-weight", p.bold ? "bold" : "normal")
		.text(p.title);

	g.append("text")
		.attr("x", p.lx).attr("y", p.ly)
		.attr("fill", "#000")
		.style("font-size", "20px")
		.style("font-weight", "bold")
		.text(p.letter);

	g.append("text")
		.attr("x", cx).attr("y", b[3] + 27)
		.attr("text-anchor", "middle")
		.attr("fill", textColor)
		.style("font-size", "14px")
		.text(p.xlab);

	g.append("text")
		.attr("transform", "translate(" + (b[0] - 22) + "," + cy + ") rotate(-90)")
		.attr("text-anchor", "middle")
		.attr("fill", textColor)
		.style("font-size", "14px")
		.text("Imputation Accuracy");
}

panels.forEach(drawPanel);

// caption, squeezed to the width it has in the figure
function captionLine(parts, baseline, right) {
	var t = svg.append("text")
		.attr("fill", "#231f20")
		.style("font-size", "15.5px");
	t.selectAll("tspan")
		.data(parts)
		.enter()
		.append("tspan")
		.style("font-weight", function(d) { return d[1] ? "bold" : "normal"; })
		.text(function(d) { return d[0]; });
	var w = t.node().getComputedTextLength();
	var left = 23;
	t.attr("transform", "translate(" + left + "," + baseline + ") scale(" + ((right - left) / w) + ",1)");
}

captionLine(captionLine1, 755, 1282);
captionLine(captionLine2, 779, 1322);
</script>
</body>
</html>
